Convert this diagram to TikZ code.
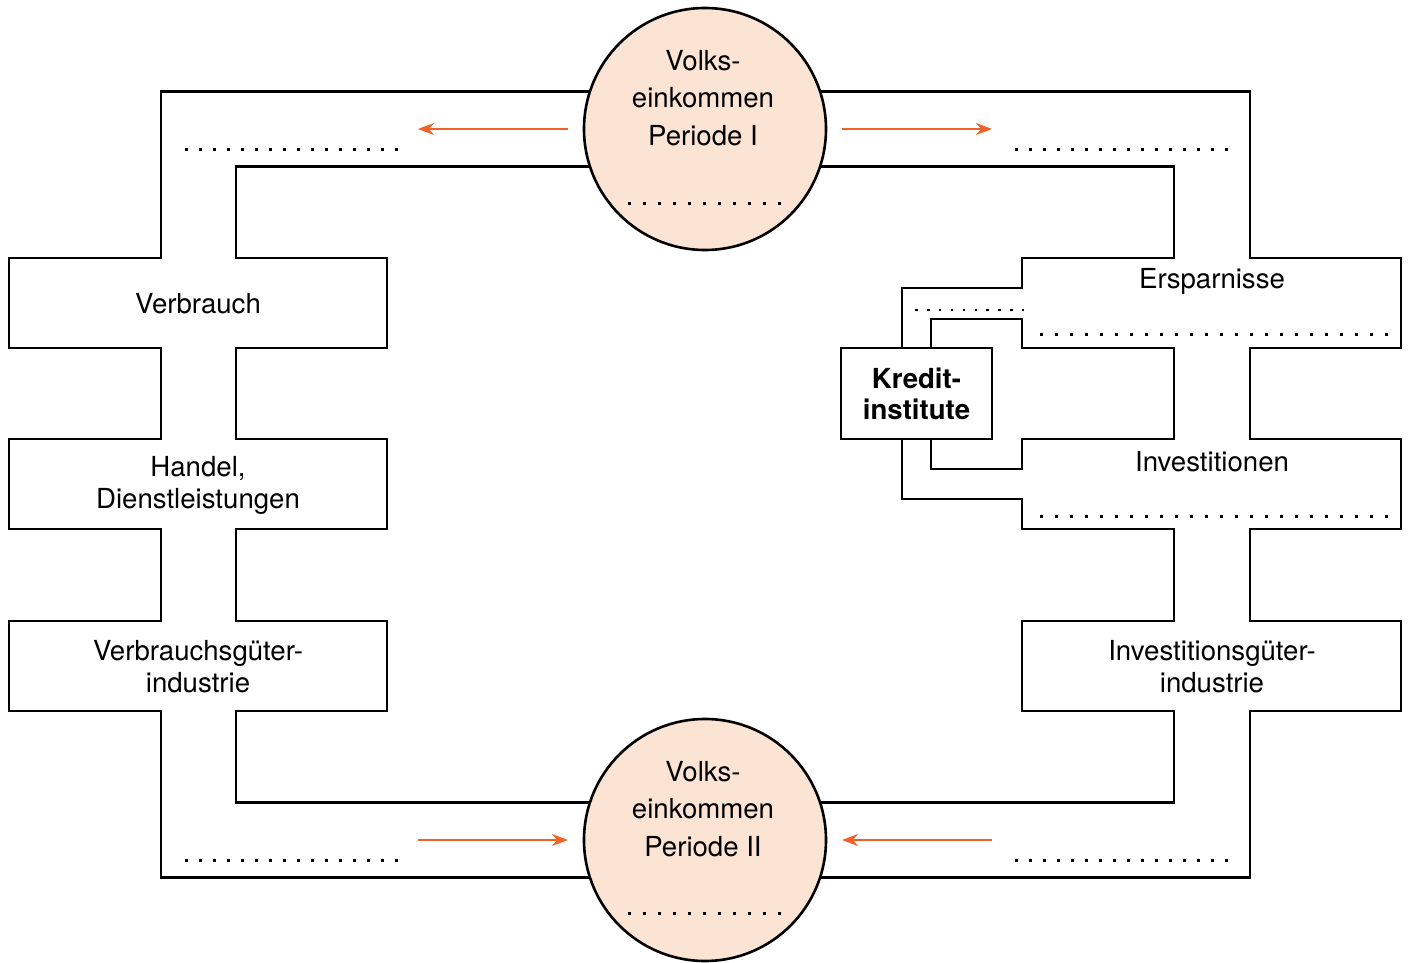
\documentclass[tikz,border=0pt]{standalone}
\usepackage{fontspec}
\setmainfont{TeX Gyre Heros}
\usetikzlibrary{arrows.meta}
\definecolor{peach}{RGB}{252,228,212}
\definecolor{flowred}{RGB}{240,98,40}
\begin{document}
\begin{tikzpicture}[x=0.5pt, y=-0.5pt, line width=1.3pt, font=\fontsize{13.8}{16}\selectfont,
	income/.style = {draw, circle, fill=peach, minimum size=121pt, inner sep=0pt},
	txt/.style = {align=center, inner sep=0pt},
	dotrow/.style = {line width=1.5pt, dash pattern=on 1.4pt off 5.6pt},
	dotrowwide/.style = {line width=1.5pt, dash pattern=on 1.4pt off 6.1pt},
	flowarrow/.style = {draw=flowred, line width=1.1pt, -{Stealth[length=8pt, width=6pt]}}]

		\useasboundingbox (0,0) rectangle (1409,963);

		\node[income] (vi1) at (705,129) {};
		\node[income] (vi2) at (705,840) {};
		\node[draw, minimum width=75.5pt, minimum height=45.5pt, inner sep=0pt] (kredit) at (916.5,393.5) {};

		% left pipe
		\draw (vi1.162) -| (161,258) -- (9,258) -- (9,348) -- (161,348) -- (161,439) -- (9,439) -- (9,529) -- (161,529) -- (161,621) -- (9,621) -- (9,711) -- (161,711) |- (vi2.198);
		\draw (vi1.198) -| (236,258) -- (387,258) -- (387,348) -- (236,348) -- (236,439) -- (387,439) -- (387,529) -- (236,529) -- (236,621) -- (387,621) -- (387,711) -- (236,711) |- (vi2.162);

		% right pipe
		\draw (vi1.18) -| (1250,258) -- (1401,258) -- (1401,348) -- (1250,348) -- (1250,439) -- (1401,439) -- (1401,529) -- (1250,529) -- (1250,621) -- (1401,621) -- (1401,711) -- (1250,711) |- (vi2.342);
		\draw (vi1.342) -| (1174,258) -- (1022,258) -- (1022,288) -- (902,288) -- (902,348);
		\draw (931,348) -- (931,319) -- (1022,319) -- (1022,348) -- (1174,348) -- (1174,439) -- (1022,439) -- (1022,469) -- (931,469) -- (931,439);
		\draw (902,439) -- (902,499) -- (1022,499) -- (1022,529) -- (1174,529) -- (1174,621) -- (1022,621) -- (1022,711) -- (1174,711) |- (vi2.18);

		% texts
		\node[txt, font=\fontsize{13.8}{18.75}\selectfont] (t1) at (703,98) {Volks-\\einkommen\\Periode I};
		\node[txt, font=\fontsize{13.8}{18.75}\selectfont] (t2) at (703,809) {Volks-\\einkommen\\Periode II};
		\node[txt] (verbrauch) at (198,304) {Verbrauch};
		\node[txt] (handel) at (198,485) {Handel,\\Dienstleistungen};
		\node[txt] (vgind) at (198,667) {Verbrauchsgüter-\\industrie};
		\node[txt] (ersparnisse) at (1212,281) {Ersparnisse};
		\node[txt] (investitionen) at (1212,462) {Investitionen};
		\node[txt] (igind) at (1212,667) {Investitionsgüter-\\industrie};
		\node[txt, font=\fontsize{13.8}{15.5}\selectfont\bfseries] (kredittxt) at (kredit) {Kredit-\\institute};

		% blanks
		\draw[dotrow] (185,150) -- (398,150);
		\draw[dotrow] (1015,150) -- (1228,150);
		\draw[dotrow] (185,860) -- (398,860);
		\draw[dotrow] (1015,860) -- (1228,860);
		\draw[dotrowwide] (628,203) -- (781,203);
		\draw[dotrowwide] (628,913) -- (781,913);
		\draw[dotrowwide] (1040,334) -- (1388,334);
		\draw[dotrowwide] (1040,516) -- (1388,516);
		\draw[line width=1.4pt, dash pattern=on 1.3pt off 4.65pt] (915,310) -- (1024,310);

		% flows
		\coordinate (a1) at (568,129);
		\coordinate (b1) at (418,129);
		\coordinate (a2) at (842,129);
		\coordinate (b2) at (992,129);
		\coordinate (a3) at (418,840);
		\coordinate (b3) at (568,840);
		\coordinate (a4) at (992,840);
		\coordinate (b4) at (842,840);
		\draw[flowarrow] (a1) -- (b1);
		\draw[flowarrow] (a2) -- (b2);
		\draw[flowarrow] (a3) -- (b3);
		\draw[flowarrow] (a4) -- (b4);
	\end{tikzpicture}
\end{document}
